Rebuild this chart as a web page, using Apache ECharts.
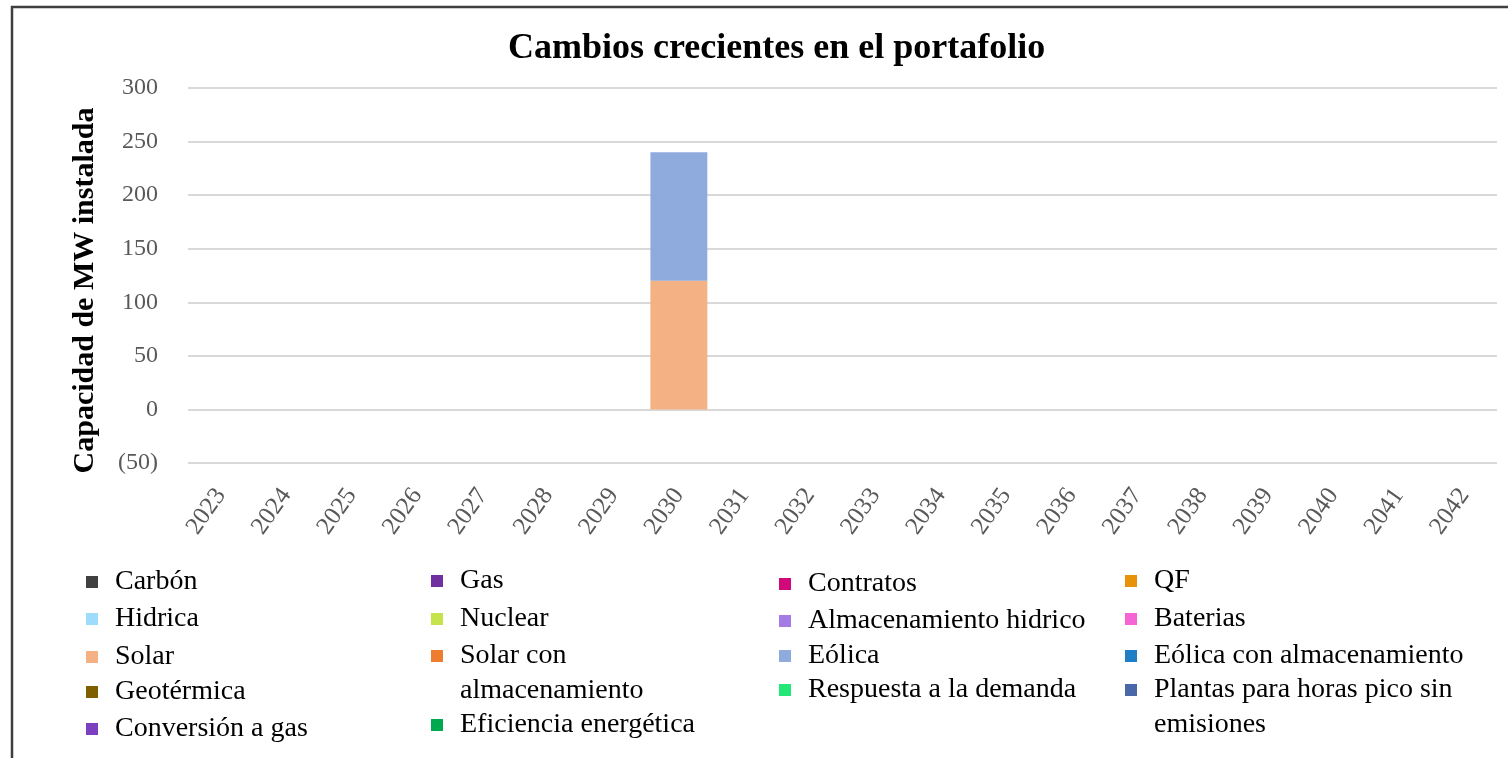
<!DOCTYPE html>
<html>
<head>
<meta charset="utf-8">
<script src="https://cdn.jsdelivr.net/npm/echarts@6/dist/echarts.min.js"></script>
<style>
    html, body { margin: 0; padding: 0; background: #fff; }
    #chart { width: 1508px; height: 758px; }
</style>
</head>
<body>
<div id="chart"></div>
<script>
    // años del eje x
    var years = ['2023','2024','2025','2026','2027','2028','2029','2030','2031','2032',
                 '2033','2034','2035','2036','2037','2038','2039','2040','2041','2042'];
    var yTicks = [-50, 0, 50, 100, 150, 200, 250, 300];

    // valores por tecnología (MW)
    var carbon      = [0,0,0,0,0,0,0,0,0,0,0,0,0,0,0,0,0,0,0,0];
    var gas         = [0,0,0,0,0,0,0,0,0,0,0,0,0,0,0,0,0,0,0,0];
    var contratos   = [0,0,0,0,0,0,0,0,0,0,0,0,0,0,0,0,0,0,0,0];
    var qf          = [0,0,0,0,0,0,0,0,0,0,0,0,0,0,0,0,0,0,0,0];
    var hidrica     = [0,0,0,0,0,0,0,0,0,0,0,0,0,0,0,0,0,0,0,0];
    var nuclear     = [0,0,0,0,0,0,0,0,0,0,0,0,0,0,0,0,0,0,0,0];
    var almHidrico  = [0,0,0,0,0,0,0,0,0,0,0,0,0,0,0,0,0,0,0,0];
    var baterias    = [0,0,0,0,0,0,0,0,0,0,0,0,0,0,0,0,0,0,0,0];
    var solar       = [0,0,0,0,0,0,0,120,0,0,0,0,0,0,0,0,0,0,0,0];
    var solarAlm    = [0,0,0,0,0,0,0,0,0,0,0,0,0,0,0,0,0,0,0,0];
    var eolica      = [0,0,0,0,0,0,0,120,0,0,0,0,0,0,0,0,0,0,0,0];
    var eolicaAlm   = [0,0,0,0,0,0,0,0,0,0,0,0,0,0,0,0,0,0,0,0];
    var geotermica  = [0,0,0,0,0,0,0,0,0,0,0,0,0,0,0,0,0,0,0,0];
    var respuesta   = [0,0,0,0,0,0,0,0,0,0,0,0,0,0,0,0,0,0,0,0];
    var plantasPico = [0,0,0,0,0,0,0,0,0,0,0,0,0,0,0,0,0,0,0,0];
    var conversion  = [0,0,0,0,0,0,0,0,0,0,0,0,0,0,0,0,0,0,0,0];
    var eficiencia  = [0,0,0,0,0,0,0,0,0,0,0,0,0,0,0,0,0,0,0,0];

    var seriesDefs = [
        {name: 'Carbón', data: carbon, color: '#404040'},
        {name: 'Gas', data: gas, color: '#7030a0'},
        {name: 'Contratos', data: contratos, color: '#d0087a'},
        {name: 'QF', data: qf, color: '#e8920a'},
        {name: 'Hidrica', data: hidrica, color: '#9fdcfb'},
        {name: 'Nuclear', data: nuclear, color: '#c5e34a'},
        {name: 'Almacenamiento hidrico', data: almHidrico, color: '#a57be6'},
        {name: 'Baterias', data: baterias, color: '#f466d4'},
        {name: 'Solar', data: solar, color: '#f4b183'},
        {name: 'Solar con almacenamiento', data: solarAlm, color: '#ed7d31'},
        {name: 'Eólica', data: eolica, color: '#8faadc'},
        {name: 'Eólica con almacenamiento', data: eolicaAlm, color: '#1f7fc6'},
        {name: 'Geotérmica', data: geotermica, color: '#7f6000'},
        {name: 'Respuesta a la demanda', data: respuesta, color: '#23e878'},
        {name: 'Plantas para horas pico sin emisiones', data: plantasPico, color: '#4a67a8'},
        {name: 'Conversión a gas', data: conversion, color: '#7b3fc0'},
        {name: 'Eficiencia energética', data: eficiencia, color: '#00a850'}
    ];

    // posición de cada elemento de la leyenda: [x del marcador, centro y, texto en dos líneas]
    var legendLayout = {
        'Carbón': [86, 582], 'Hidrica': [86, 619], 'Solar': [86, 657],
        'Geotérmica': [86, 692], 'Conversión a gas': [86, 729],
        'Gas': [431, 581], 'Nuclear': [431, 619],
        'Solar con almacenamiento': [431, 656, 'Solar con\nalmacenamiento'],
        'Eficiencia energética': [431, 725],
        'Contratos': [779, 584], 'Almacenamiento hidrico': [779, 621],
        'Eólica': [779, 656], 'Respuesta a la demanda': [779, 690],
        'QF': [1125, 581], 'Baterias': [1125, 619],
        'Eólica con almacenamiento': [1125, 656],
        'Plantas para horas pico sin emisiones': [1125, 690, 'Plantas para horas pico sin\nemisiones']
    };

    var serifFont = '"Times New Roman", "Liberation Serif", serif';
    var lh = 35;

    var legends = seriesDefs.map(function (s) {
        var p = legendLayout[s.name];
        var twoLines = !!p[2];
        return {
            data: [s.name],
            left: p[0],
            // texto de dos líneas: una línea vacía arriba deja el marcador en la primera línea
            top: twoLines ? p[1] - (lh * 3) / 2 : p[1] - lh / 2,
            padding: 0,
            selectedMode: false,
            icon: 'rect',
            itemWidth: 12,
            itemHeight: 12,
            formatter: function () { return twoLines ? ' \n' + p[2] : s.name; },
            textStyle: {
                fontFamily: serifFont,
                fontSize: 28,
                color: '#000',
                lineHeight: lh,
                padding: [0, 0, 0, 12]
            }
        };
    });

    var myChart = echarts.init(document.getElementById('chart'));
    var option = {
        animation: false,
        backgroundColor: '#fff',
        title: {
            text: 'Cambios crecientes en el portafolio',
            left: 503,
            top: 26,
            textStyle: {
                fontFamily: serifFont,
                fontSize: 36,
                fontWeight: 'bold',
                color: '#000'
            }
        },
        graphic: [{
            type: 'rect',
            shape: {x: 12, y: 7, width: 1520, height: 780},
            style: {fill: 'none', stroke: '#3f3f3f', lineWidth: 2.5},
            silent: true
        }],
        legend: legends,
        grid: {
            left: 188,
            right: 11,
            top: 88,
            bottom: 295
        },
        xAxis: {
            type: 'category',
            data: years,
            axisLine: {show: false, onZero: false},
            axisTick: {show: false},
            axisLabel: {
                rotate: 55,
                margin: 28,
                interval: 0,
                fontFamily: serifFont,
                fontSize: 25,
                color: '#595959'
            }
        },
        yAxis: {
            type: 'value',
            min: yTicks[0],
            max: yTicks[yTicks.length - 1],
            interval: 50,
            name: 'Capacidad de MW instalada',
            nameLocation: 'middle',
            nameRotate: 90,
            nameGap: 88,
            nameTextStyle: {
                fontFamily: serifFont,
                fontSize: 30,
                fontWeight: 'bold',
                color: '#000',
                padding: [0, 30, 0, 0]
            },
            axisLine: {show: false},
            axisTick: {show: false},
            axisLabel: {
                margin: 30,
                fontFamily: serifFont,
                fontSize: 24,
                color: '#595959',
                formatter: function (v) { return v < 0 ? '(' + Math.abs(v) + ')' : String(v); }
            },
            splitLine: {lineStyle: {color: '#d9d9d9', width: 2}}
        },
        series: seriesDefs.map(function (s) {
            return {
                name: s.name,
                type: 'bar',
                stack: 'total',
                barCategoryGap: '13%',
                data: s.data,
                itemStyle: {color: s.color}
            };
        })
    };
    myChart.setOption(option);
</script>
</body>
</html>
